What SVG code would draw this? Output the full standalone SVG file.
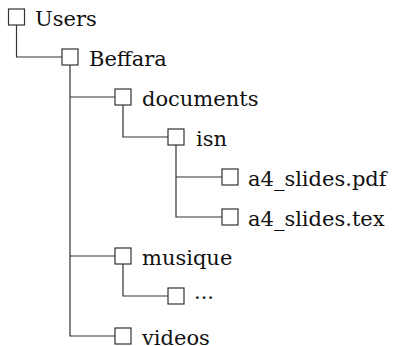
<svg xmlns="http://www.w3.org/2000/svg" width="405" height="346" viewBox="0 0 405 346">
<style>
.box{fill:#fff;stroke:#333;stroke-width:1.2}
.ln{fill:none;stroke:#333;stroke-width:1.2}
text{font-family:"DejaVu Serif","Liberation Serif",serif;font-size:21px;fill:#111}
</style>
<rect width="405" height="346" fill="#fff"/>
<g id="connectors">
<path class="ln" d="M16.5,25 V57 H62"/>
<path class="ln" d="M70,65 V336 H115 M70,97 H115 M70,256 H115"/>
<path class="ln" d="M123,105 V137 H168"/>
<path class="ln" d="M176,145 V217 H222 M176,177 H222"/>
<path class="ln" d="M123,264 V296 H168"/>
</g>
<g id="users"><rect class="box" x="8.5" y="9" width="16" height="16"/><text x="35" y="26">Users</text></g>
<g id="beffara"><rect class="box" x="62" y="49" width="16" height="16"/><text x="89" y="66">Beffara</text></g>
<g id="documents"><rect class="box" x="115" y="89" width="16" height="16"/><text x="142" y="106">documents</text></g>
<g id="isn"><rect class="box" x="168" y="129" width="16" height="16"/><text x="196" y="146">isn</text></g>
<g id="pdf"><rect class="box" x="222" y="169" width="16" height="16"/><text x="248" y="186">a4_slides.pdf</text></g>
<g id="tex"><rect class="box" x="222" y="209" width="16" height="16"/><text x="248" y="226">a4_slides.tex</text></g>
<g id="musique"><rect class="box" x="115" y="248" width="16" height="16"/><text x="142" y="265">musique</text></g>
<g id="dots"><rect class="box" x="168" y="288" width="16" height="16"/><text x="194" y="299">...</text></g>
<g id="videos"><rect class="box" x="115" y="328" width="16" height="16"/><text x="142" y="345">videos</text></g>
</svg>
